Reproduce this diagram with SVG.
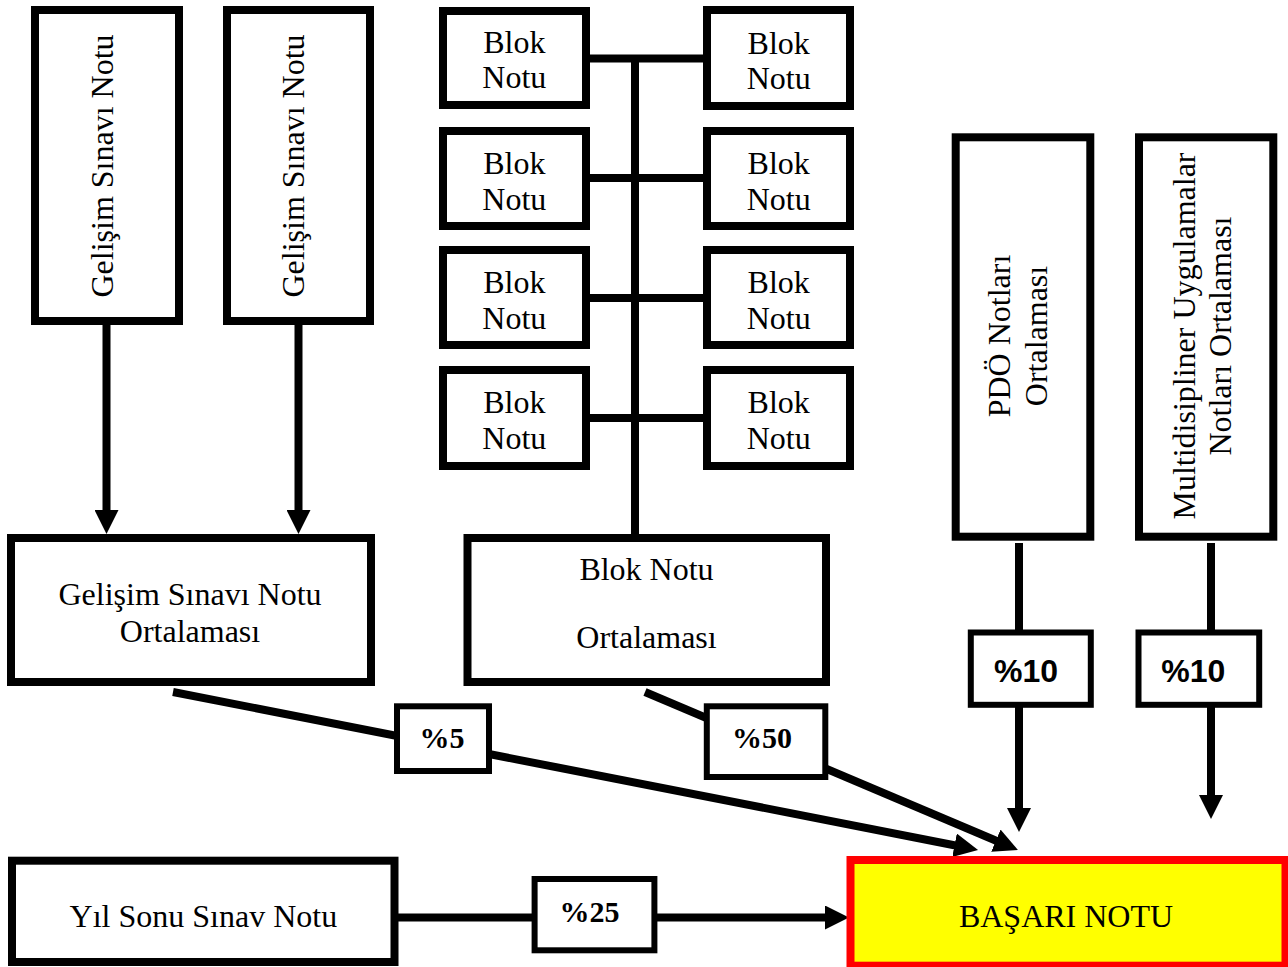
<svg xmlns="http://www.w3.org/2000/svg" width="1288" height="967" viewBox="0 0 1288 967">
<defs>
<marker id="ah" viewBox="0 0 24 24" markerWidth="24" markerHeight="24" markerUnits="userSpaceOnUse" refX="1" refY="12" orient="auto">
<path d="M0,0 L24,12 L0,24 z" fill="#000"/>
</marker>
<style>
.box{fill:#fff;stroke:#000;stroke-width:8}
.sbox{fill:#fff;stroke:#000;stroke-width:6}
.t{font-family:"Liberation Serif","Times New Roman",serif;font-size:32px;fill:#000;text-anchor:middle}
.p{font-family:"Liberation Serif","Times New Roman",serif;font-size:30px;font-weight:bold;fill:#000;text-anchor:middle}
.q{font-family:"Liberation Sans",Arial,sans-serif;font-size:32px;font-weight:bold;fill:#000;text-anchor:middle}
.c{stroke:#000;stroke-width:8;fill:none}
.a{stroke:#000;stroke-width:8;fill:none;marker-end:url(#ah)}
</style>
</defs>
<rect width="1288" height="967" fill="#fff"/>

<g id="connectors">
<line class="c" x1="590" y1="58.5" x2="703" y2="58.5" stroke-width="7"/>
<line class="c" x1="590" y1="178" x2="703" y2="178" stroke-width="7"/>
<line class="c" x1="590" y1="298" x2="703" y2="298" stroke-width="7"/>
<line class="c" x1="590" y1="418" x2="703" y2="418" stroke-width="7"/>
<line class="c" x1="635" y1="55" x2="635" y2="535"/>
<line class="a" x1="106.5" y1="325" x2="106.5" y2="511"/>
<line class="a" x1="298.5" y1="325" x2="298.5" y2="511"/>
<line class="c" x1="1019" y1="543" x2="1019" y2="632"/>
<line class="a" x1="1019" y1="706" x2="1019" y2="809"/>
<line class="c" x1="1211" y1="543" x2="1211" y2="632"/>
<line class="a" x1="1211" y1="706" x2="1211" y2="796"/>
<line class="a" x1="173" y1="692" x2="955.5" y2="845.5"/>
<line class="a" x1="645" y1="692" x2="996.8" y2="841"/>
<line class="a" x1="396" y1="917.5" x2="826" y2="917.5"/>
</g>

<g id="gelisim1">
<rect class="box" x="35" y="10" width="144" height="311"/>
<text class="t" transform="translate(112.5,166) rotate(-90)">Gelişim Sınavı Notu</text>
</g>
<g id="gelisim2">
<rect class="box" x="227" y="10" width="143" height="311"/>
<text class="t" transform="translate(304,166) rotate(-90)">Gelişim Sınavı Notu</text>
</g>

<g id="blok1l"><rect class="box" x="443" y="11" width="143" height="94"/><text class="t" x="514.3" y="52.7">Blok</text><text class="t" x="514.3" y="88.3">Notu</text></g>
<g id="blok1r"><rect class="box" x="707" y="10" width="143" height="96"/><text class="t" x="778.7" y="54">Blok</text><text class="t" x="778.7" y="89.3">Notu</text></g>
<g id="blok2l"><rect class="box" x="443" y="131" width="143" height="95"/><text class="t" x="514.3" y="174">Blok</text><text class="t" x="514.3" y="209.5">Notu</text></g>
<g id="blok2r"><rect class="box" x="707" y="131" width="143" height="95"/><text class="t" x="778.7" y="174">Blok</text><text class="t" x="778.7" y="209.5">Notu</text></g>
<g id="blok3l"><rect class="box" x="443" y="250" width="143" height="95"/><text class="t" x="514.3" y="293.3">Blok</text><text class="t" x="514.3" y="329.3">Notu</text></g>
<g id="blok3r"><rect class="box" x="707" y="250" width="143" height="95"/><text class="t" x="778.7" y="293.3">Blok</text><text class="t" x="778.7" y="329.3">Notu</text></g>
<g id="blok4l"><rect class="box" x="443" y="370" width="143" height="96"/><text class="t" x="514.3" y="412.7">Blok</text><text class="t" x="514.3" y="449.3">Notu</text></g>
<g id="blok4r"><rect class="box" x="707" y="370" width="143" height="96"/><text class="t" x="778.7" y="412.7">Blok</text><text class="t" x="778.7" y="449.3">Notu</text></g>

<g id="pdo">
<rect class="box" x="955.7" y="137.3" width="134.6" height="399.4"/>
<text class="t" transform="translate(1010,336) rotate(-90)"><tspan x="0" y="0">PDÖ Notları</tspan><tspan x="0" y="36.5">Ortalaması</tspan></text>
</g>
<g id="multi">
<rect class="box" x="1139" y="137.3" width="134.3" height="399.4"/>
<text class="t" transform="translate(1194.5,336) rotate(-90)"><tspan x="0" y="0">Multidisipliner Uygulamalar</tspan><tspan x="0" y="36">Notları Ortalaması</tspan></text>
</g>

<g id="gelisimOrt">
<rect class="box" x="11" y="538" width="360" height="144"/>
<text class="t" x="190" y="605">Gelişim Sınavı Notu</text>
<text class="t" x="190" y="641.7">Ortalaması</text>
</g>
<g id="blokOrt">
<rect class="box" x="467.5" y="538" width="358.5" height="144"/>
<text class="t" x="646.5" y="580">Blok Notu</text>
<text class="t" x="646.5" y="648">Ortalaması</text>
</g>

<g id="p5"><rect class="sbox" x="397" y="706.3" width="92" height="64.7"/><text class="p" x="442" y="747.7">%5</text></g>
<g id="p50"><rect class="sbox" x="706.8" y="706.3" width="118.5" height="70.7"/><text class="p" x="762" y="747.7">%50</text></g>
<g id="p10a"><rect class="sbox" x="970.8" y="632.5" width="120" height="72.3" stroke-width="5"/><text class="q" x="1026" y="682.3">%10</text></g>
<g id="p10b"><rect class="sbox" x="1138.5" y="632.5" width="120.7" height="72.3" stroke-width="5"/><text class="q" x="1193.3" y="682.3">%10</text></g>
<g id="p25"><rect class="sbox" x="534.6" y="879" width="119.8" height="71.3"/><text class="p" x="589.6" y="921.7">%25</text></g>

<g id="yilsonu">
<rect class="box" x="12" y="860.7" width="382.5" height="101.3"/>
<text class="t" x="203.4" y="926.7">Yıl Sonu Sınav Notu</text>
</g>
<g id="basari">
<rect x="850.5" y="860" width="435" height="105.7" fill="#ffff00" stroke="#ff0000" stroke-width="8"/>
<text class="t" x="1066" y="926.7">BAŞARI NOTU</text>
</g>
</svg>
